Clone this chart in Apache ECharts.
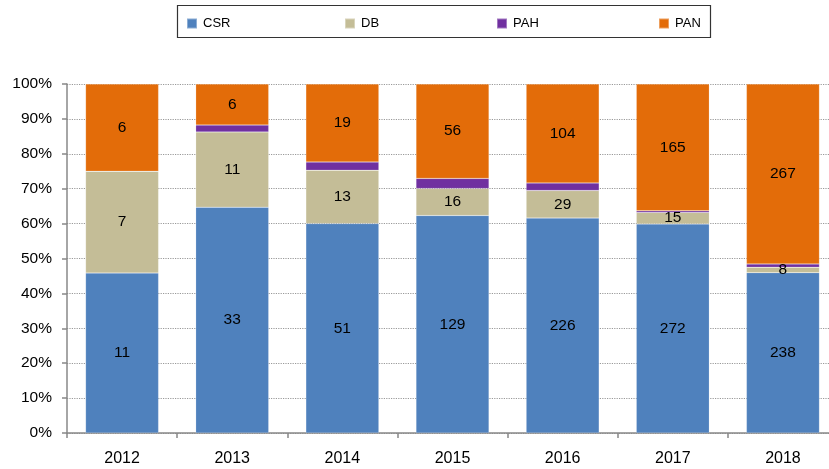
<!DOCTYPE html>
<html>
<head>
<meta charset="utf-8">
<script src="https://cdn.jsdelivr.net/npm/echarts@6/dist/echarts.min.js"></script>
<style>
html, body { margin: 0; padding: 0; background: #fff; }
#chart { width: 829px; height: 469px; }
</style>
</head>
<body>
<div id="chart"></div>
<script>
// 年份
var years = ['2012', '2013', '2014', '2015', '2016', '2017', '2018'];
// 各类数量（原始计数）
var csr = [11, 33, 51, 129, 226, 272, 238];
var db = [7, 11, 13, 16, 29, 15, 8];
var pah = [0, 1, 2, 6, 8, 2, 5];
var pan = [6, 6, 19, 56, 104, 165, 267];
var names = ['CSR', 'DB', 'PAH', 'PAN'];
var yTicks = [0, 10, 20, 30, 40, 50, 60, 70, 80, 90, 100];

var font = '"Liberation Sans", Arial, Helvetica, sans-serif';
var totals = years.map(function(y, i){ return csr[i] + db[i] + pah[i] + pan[i]; });

// 转成百分比，标签显示原始数
function toPct(arr) {
	return arr.map(function(v, i){ return { value: v / totals[i] * 100, raw: v }; });
}

function makeSeries(name, arr, color, showLabel) {
	return {
		name: name,
		type: 'bar',
		stack: 'all',
		barWidth: 73,
		data: toPct(arr),
		itemStyle: { color: color, borderColor: 'rgba(255,255,255,0.35)', borderWidth: 0.5 },
		label: {
			show: showLabel,
			position: 'inside',
			color: '#000',
			fontSize: 15.5,
			fontFamily: font,
			formatter: function(p){ return p.data.raw; }
		}
	};
}

// 图例每项单独放，间距均匀
var legendLeft = [186, 344, 496, 658];
var legends = names.map(function(n, i){
	return {
		left: legendLeft[i],
		top: 17,
		padding: 0,
		itemWidth: 10,
		itemHeight: 10,
		icon: 'rect',
		textStyle: { fontSize: 13, fontFamily: font, color: '#000', padding: [0, 0, 0, 1] },
		data: [n]
	};
});

var myChart = echarts.init(document.getElementById('chart'));
myChart.setOption({
	animation: false,
	backgroundColor: '#fff',
	graphic: [{
		type: 'rect',
		shape: { x: 177.5, y: 5.5, width: 533, height: 32 },
		style: { fill: 'none', stroke: '#333', lineWidth: 1.2 }
	}],
	legend: legends,
	grid: { left: 67, top: 84, width: 771, height: 349, containLabel: false, outerBoundsMode: 'none' },
	xAxis: {
		type: 'category',
		data: years,
		axisLine: { lineStyle: { color: '#888', width: 1.5 } },
		axisTick: { show: true, length: 5, lineStyle: { color: '#888', width: 1.5 } },
		axisLabel: { color: '#000', fontSize: 16, fontFamily: font, margin: 18 }
	},
	yAxis: {
		type: 'value',
		min: 0,
		max: 100,
		interval: 10,
		axisLine: { show: true, lineStyle: { color: '#888', width: 1.5 } },
		axisTick: { show: true, length: 5, lineStyle: { color: '#888', width: 1.5 } },
		axisLabel: {
			color: '#000', fontSize: 15.5, fontFamily: font, margin: 15,
			formatter: function(v){ return yTicks.indexOf(v) != -1 ? v + '%' : ''; }
		},
		splitLine: { show: true, lineStyle: { color: '#999', type: 'dotted', width: 1.2 } }
	},
	series: [
		makeSeries('CSR', csr, '#4f81bd', true),
		makeSeries('DB', db, '#c4bd97', true),
		makeSeries('PAH', pah, '#7030a0', false),
		makeSeries('PAN', pan, '#e36c09', true)
	]
});
</script>
</body>
</html>
